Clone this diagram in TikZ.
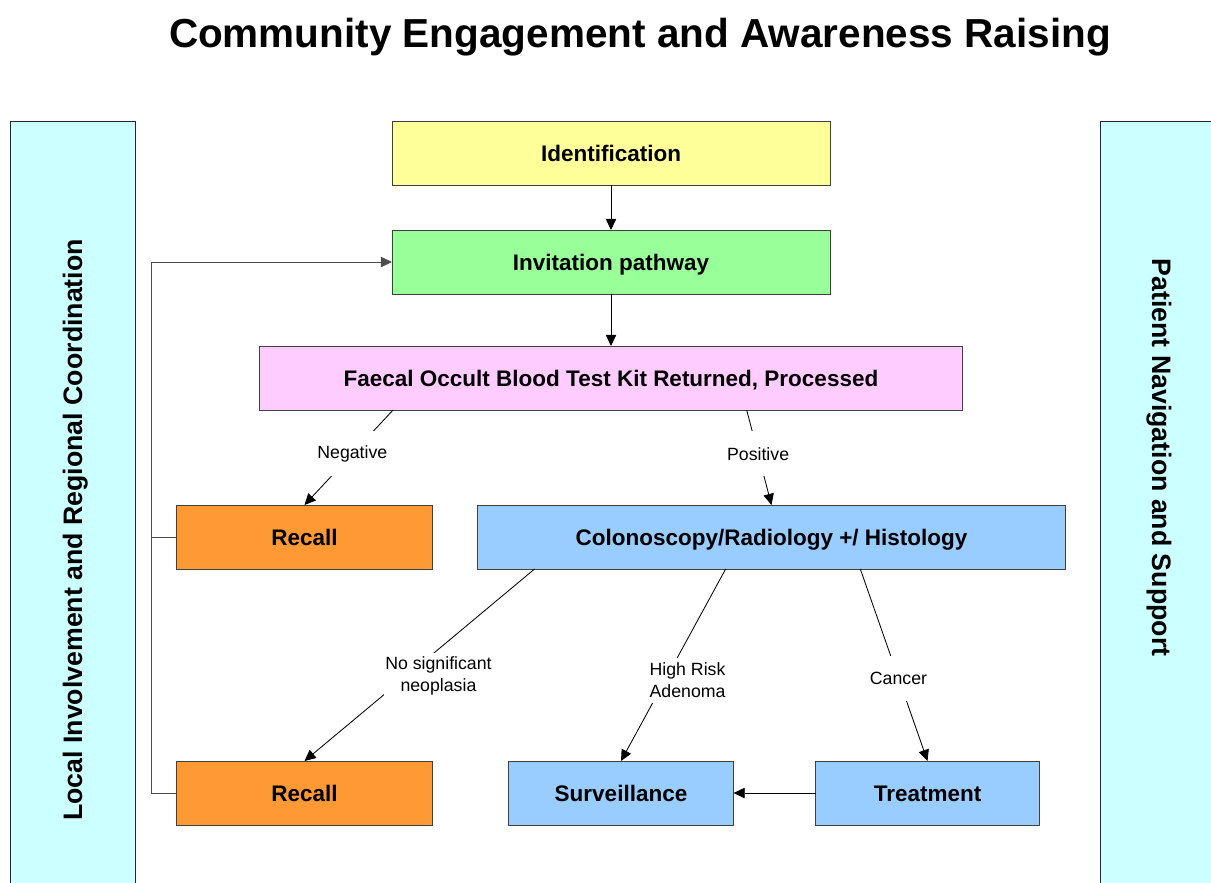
\documentclass[tikz,border=0pt]{standalone}
\usepackage{fontspec}
\setmainfont{Liberation Sans}
\usetikzlibrary{positioning,calc,arrows.meta}
\definecolor{identyellow}{HTML}{FFFF99}
\definecolor{invitegreen}{HTML}{99FF99}
\definecolor{kitpink}{HTML}{FFCCFF}
\definecolor{recallorange}{HTML}{FF9933}
\definecolor{colonblue}{HTML}{99CCFF}
\definecolor{sidecyan}{HTML}{CCFFFF}

\begin{document}
\begin{tikzpicture}[x=0.25mm, y=-0.25mm,
				>={Triangle[length=2.8mm,width=2.6mm]},
				box/.style={rectangle, draw=black!75, line width=0.6pt, minimum height=16mm, inner sep=0pt, outer sep=0pt, text height=11.5pt, text depth=0pt, font=\fontsize{16}{19}\selectfont\bfseries},
				sidebar/.style={rectangle, draw=black!85, line width=0.7pt, fill=sidecyan, minimum width=31.25mm, minimum height=219.75mm},
				sidetext/.style={anchor=base, inner sep=0pt, font=\fontsize{19}{23}\selectfont\bfseries},
				cond/.style={rectangle, fill=white, inner xsep=1pt, inner ysep=0pt, minimum height=11.25mm, align=center, font=\fontsize{12.6}{15.6}\selectfont}
			]
			\useasboundingbox (0,0) rectangle (1211,882);
			\clip (0,0) rectangle (1211,882);
			\node[sidebar] (localbar) at (72.5,560.5) {};
			\node[sidebar] (navbar) at (1162.5,560.5) {};
			\node[sidetext, rotate=90] (localtext) at (82,530) {Local Involvement and Regional Coordination};
			\node[sidetext, rotate=-90] (navtext) at (1152,457.5) {Patient Navigation and Support};
			\node[anchor=base, font=\fontsize{28.8}{34}\selectfont\bfseries] (title) at (640,47.5) {Community Engagement and Awareness Raising};
			\node[box, fill=identyellow, minimum width=109.5mm] (ident) at (611,153) {Identification};
			\node[box, fill=invitegreen, minimum width=109.5mm] (invite) [below=11.25mm of ident] {Invitation pathway};
			\node[box, fill=kitpink, minimum width=175.75mm] (kit) [below=13mm of invite] {Faecal Occult Blood Test Kit Returned, Processed};
			\node[box, fill=recallorange, minimum width=64mm] (recallone) [below=23.75mm of kit.south west, xshift=11.25mm] {Recall};
			\node[box, fill=colonblue, minimum width=147mm] (colon) [right=11.25mm of recallone] {Colonoscopy/Radiology +/ Histology};
			\node[box, fill=recallorange, minimum width=64mm] (recalltwo) [below=48mm of recallone] {Recall};
			\node[box, fill=colonblue, minimum width=56.25mm] (surv) [right=19mm of recalltwo] {Surveillance};
			\node[box, fill=colonblue, minimum width=56mm] (treat) [right=20.5mm of surv] {Treatment};
			\coordinate (loop) at ($(recalltwo.west)+(-25,0)$);
			\begin{scope}[line width=0.6pt, ->]
			\draw (ident) -- (invite);
			\draw (invite) -- (kit);
			\draw ($(kit.south west)!0.19!(kit.south east)$) -- (recallone.north) node[cond, pos=0.46] {Negative};
			\draw ($(kit.south west)!0.693!(kit.south east)$) -- (colon.north) node[cond, pos=0.46] {Positive};
			\draw ($(colon.south west)!0.097!(colon.south east)$) -- (recalltwo.north) node[cond, pos=0.555, xshift=7.9mm] {No significant\\neoplasia};
			\draw ($(colon.south west)!0.422!(colon.south east)$) -- (surv.north) node[cond, pos=0.578, xshift=5.6mm] {High Risk\\Adenoma};
			\draw ($(colon.south west)!0.651!(colon.south east)$) -- (treat.north) node[cond, pos=0.568] {Cancer};
			\draw (treat) -- (surv);
			\draw[black!70] (recalltwo.west) -- (loop) |- (invite.west);
			\draw[black!70, -] (recallone.west) -- (recallone.west -| loop);
			\end{scope}
			\end{tikzpicture}
\end{document}
